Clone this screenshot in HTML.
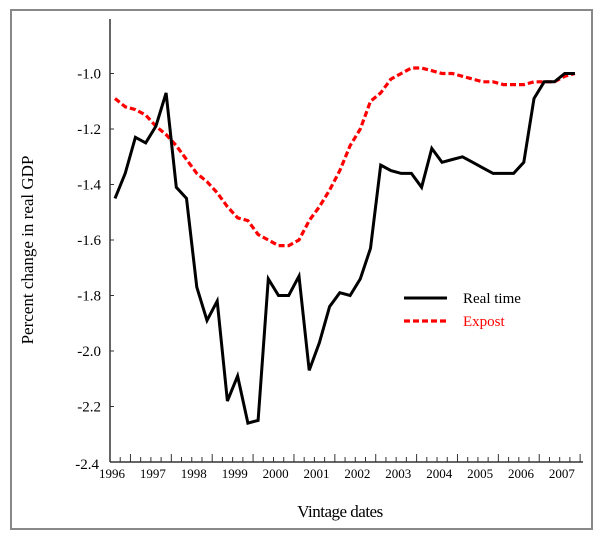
<!DOCTYPE html>
<html><head><meta charset="utf-8"><style>
body{margin:0;background:#fff;}
svg text{font-family:"Liberation Serif",serif;}
</style></head><body>
<svg width="600" height="542" xmlns="http://www.w3.org/2000/svg">
<rect x="11" y="10" width="581" height="519" fill="#fff" stroke="#888" stroke-width="2"/>
<g id="axes"></g>
<g id="series"></g>
<text x="33" y="250" font-size="17" text-anchor="middle" transform="rotate(-90 33 250)">Percent change in real GDP</text>
<text x="340" y="517" font-size="17" text-anchor="middle" letter-spacing="-0.5">Vintage dates</text>
<g>
<line x1="404" y1="298" x2="447" y2="298" stroke="#000" stroke-width="3"/>
<text x="463" y="303" font-size="15">Real time</text>
<line x1="404" y1="321" x2="447" y2="321" stroke="#f00" stroke-width="3.2" stroke-dasharray="6,3"/>
<text x="463" y="326" font-size="15" fill="#f00">Expost</text>
</g>
</svg>
<script>
const yTicks=[-2.4,-2.2,-2.0,-1.8,-1.6,-1.4,-1.2,-1.0];
const yTickLabels=["-2.4","-2.2","-2.0","-1.8","-1.6","-1.4","-1.2","-1.0"];
const years=["1996","1997","1998","1999","2000","2001","2002","2003","2004","2005","2006","2007"];
const realTime=[-1.45,-1.36,-1.23,-1.25,-1.19,-1.07,-1.41,-1.45,-1.77,-1.89,-1.82,-2.18,-2.09,-2.26,-2.25,-1.74,-1.80,-1.80,-1.73,-2.07,-1.97,-1.84,-1.79,-1.80,-1.74,-1.63,-1.33,-1.35,-1.36,-1.36,-1.41,-1.27,-1.32,-1.31,-1.30,-1.32,-1.34,-1.36,-1.36,-1.36,-1.32,-1.09,-1.03,-1.03,-1.00,-1.00];
const expost=[-1.09,-1.12,-1.13,-1.15,-1.19,-1.22,-1.26,-1.31,-1.36,-1.39,-1.43,-1.48,-1.52,-1.53,-1.58,-1.60,-1.62,-1.62,-1.60,-1.53,-1.48,-1.42,-1.35,-1.26,-1.20,-1.10,-1.07,-1.02,-1.00,-0.98,-0.98,-0.99,-1.00,-1.00,-1.01,-1.02,-1.03,-1.03,-1.04,-1.04,-1.04,-1.03,-1.03,-1.03,-1.01,-1.00];
const NS="http://www.w3.org/2000/svg";
const X0=110,Y0=462,STEP=10.22;
function xq(i){return 115+i*STEP;}
function yv(v){return Y0-(v+2.4)/0.2*55.5;}
function mk(t,a,p){const e=document.createElementNS(NS,t);for(const k in a)e.setAttribute(k,a[k]);p.appendChild(e);return e;}
const ax=document.getElementById('axes');
let e=mk('line',{x1:X0,y1:19,x2:X0,y2:Y0,stroke:'#333','stroke-width':1.5},ax);


e=mk('line',{x1:X0,y1:Y0,x2:583,y2:Y0,stroke:'#333','stroke-width':1.5},ax);


yTicks.forEach((v,i)=>{
  const y=yv(v);
  mk('line',{x1:X0,y1:y,x2:X0+4,y2:y,stroke:'#333'},ax);
  const t=mk('text',{x:i===0?99:101,y:i===0?y+7:y+5,'font-size':15,'text-anchor':'end'},ax);
  t.textContent=yTickLabels[i];
  
  
});
for(let k=1;k<=46;k++){
  const x=X0+k*STEP;
  if(x>584)break;
  const tall=(k-6)%4===0;
  mk('line',{x1:x,y1:Y0,x2:x,y2:Y0-(tall?8:5),stroke:'#333'},ax);
}
years.forEach((yr,i)=>{
  const t=mk('text',{x:112+i*40.9,y:478,'font-size':13,'text-anchor':'middle'},ax);
  t.textContent=yr;
  
  
});
const sg=document.getElementById('series');
function pts(arr){return arr.map((v,i)=>xq(i).toFixed(1)+','+yv(v).toFixed(1)).join(' ');}
e=mk('polyline',{points:pts(expost),fill:'none',stroke:'#f00','stroke-width':3.2,'stroke-dasharray':'6,3'},sg);


e=mk('polyline',{points:pts(realTime),fill:'none',stroke:'#000','stroke-width':3,'stroke-linejoin':'miter'},sg);


</script>
</body></html>
